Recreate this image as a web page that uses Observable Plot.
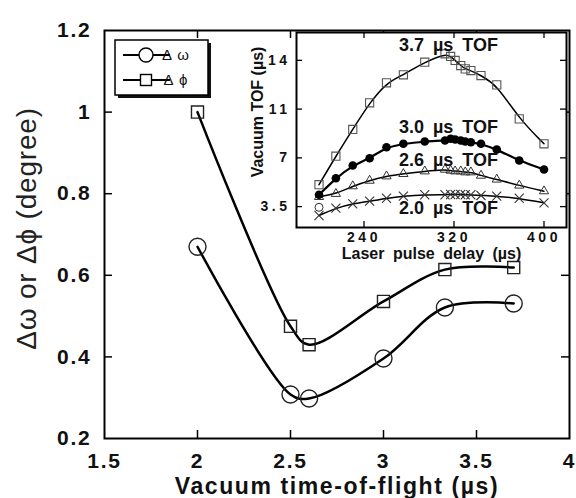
<!DOCTYPE html>
<html><head><meta charset="utf-8">
<script src="https://cdn.jsdelivr.net/npm/d3@7"></script>
<script src="https://cdn.jsdelivr.net/npm/@observablehq/plot@0.6"></script>
<style>
body{margin:0;background:#fff;}
#wrap{position:relative;width:576px;height:498px;overflow:hidden;}
#main{position:absolute;left:0;top:0;}
#inset{position:absolute;left:232px;top:31px;}
svg text{font-family:"Liberation Sans",Arial,Helvetica,sans-serif;}
</style></head><body>
<div id="wrap"><div id="main"></div><div id="inset"></div></div>
<script>
// ---- main chart data ----
const tof = [2.0, 2.5, 2.6, 3.0, 3.33, 3.7];
const dOmega = [0.67, 0.308, 0.298, 0.396, 0.521, 0.531];
const dPhi = [1.0, 0.475, 0.43, 0.536, 0.614, 0.619];
const xTicks = [1.5, 2, 2.5, 3, 3.5, 4];
const xTickLabels = ["1.5", "2", "2.5", "3", "3.5", "4"];
const yTicks = [0.2, 0.4, 0.6, 0.8, 1.0, 1.2];
const yTickLabels = ["0.2", "0.4", "0.6", "0.8", "1", "1.2"];
const legendLabels = ["Δ ω", "Δ ϕ"];
const xTitle = "Vacuum time-of-flight (µs)";
const yTitle = "Δω or Δϕ (degree)";

// ---- inset data ----
const delay = [200, 215, 230, 245, 260, 275, 294, 312, 317, 321, 326, 330, 335, 344, 358, 378, 400];
const tof37 = [5.07, 7.12, 9.04, 10.95, 12.39, 12.96, 13.87, 14.47, 14.28, 13.99, 13.63, 13.39, 13.27, 12.91, 12.24, 9.80, 8.01];
const tof30 = [4.35, 5.54, 6.45, 6.97, 7.76, 8.01, 8.17, 8.25, 8.37, 8.32, 8.25, 8.17, 8.12, 8.01, 7.60, 6.81, 6.16];
const tof26 = [4.2, 4.42, 4.97, 5.37, 5.68, 5.85, 6.04, 6.16, 6.09, 6.04, 6.04, 5.97, 5.97, 5.73, 5.45, 5.02, 4.61];
const tof20 = [2.86, 3.39, 3.70, 3.89, 4.10, 4.25, 4.35, 4.35, 4.37, 4.37, 4.37, 4.35, 4.35, 4.30, 4.25, 4.10, 3.77];
const openCircleDelay = [200];
const openCircleTof = [3.45];
const insetXTicks = [240, 320, 400];
const insetXTickLabels = ["240", "320", "400"];
const insetYTicks = [3.5, 7, 10.5, 14];
const insetYTickLabels = ["3.5", "7", "11", "14"];
const seriesLabels = ["3.7 µs TOF", "3.0 µs TOF", "2.6 µs TOF", "2.0 µs TOF"];
const seriesLabelY = [15.07, 9.18, 6.81, 3.36];
const seriesLabelX = 271;
const insetXTitle = "Laser pulse delay (µs)";
const insetYTitle = "Vacuum TOF (µs)";

const FONT = '"Liberation Sans", Arial, Helvetica, sans-serif';

// ---- main plot ----
const mW = 576, mH = 498, mL = 104, mR = 7, mT = 30, mB = 60;
const innerW = mW - mL - mR, innerH = mH - mT - mB;
const omega = tof.map((t, i) => ({t, v: dOmega[i]}));
const phi = tof.map((t, i) => ({t, v: dPhi[i]}));
const innerXT = xTicks.slice(1, -1), innerYT = yTicks.slice(1, -1);

const main = Plot.plot({
  width: mW, height: mH,
  marginLeft: mL, marginRight: mR, marginTop: mT, marginBottom: mB,
  style: {background: "white", fontFamily: FONT, overflow: "visible"},
  x: {domain: [1.5, 4], axis: null},
  y: {domain: [0.2, 1.2], axis: null},
  marks: [
    Plot.ruleX(innerXT, {x: d => d, insetTop: innerH - 8, stroke: "black", strokeWidth: 1.5}),
    Plot.ruleX(innerXT, {x: d => d, insetBottom: innerH - 8, stroke: "black", strokeWidth: 1.5}),
    Plot.ruleY(innerYT, {y: d => d, insetRight: innerW - 8, stroke: "black", strokeWidth: 1.5}),
    Plot.ruleY(innerYT, {y: d => d, insetLeft: innerW - 8, stroke: "black", strokeWidth: 1.5}),
    Plot.text(xTicks, {x: d => d, frameAnchor: "bottom", dy: 23, lineAnchor: "middle", textAnchor: "middle",
      text: (d, i) => xTickLabels[i], fontSize: 21, fontWeight: "bold", fill: "#111"}),
    Plot.text(yTicks, {y: d => d, frameAnchor: "left", dx: -13, textAnchor: "end", lineAnchor: "middle",
      text: (d, i) => yTickLabels[i], fontSize: 21, fontWeight: "bold", fill: "#111"}),
    Plot.text([xTitle], {frameAnchor: "bottom", dy: 48, lineAnchor: "middle", textAnchor: "middle",
      text: d => d, fontSize: 23, fontWeight: "bold", fill: "#111"}),
    Plot.text([yTitle], {frameAnchor: "left", dx: -77, dy: -6, rotate: -90, textAnchor: "middle", lineAnchor: "middle",
      text: d => d, fontSize: 28, fill: "#222"}),
    Plot.line(omega, {x: "t", y: "v", curve: "catmull-rom", stroke: "black", strokeWidth: 2.5}),
    Plot.line(phi, {x: "t", y: "v", curve: "catmull-rom", stroke: "black", strokeWidth: 2.5}),
    Plot.dot(omega, {x: "t", y: "v", symbol: "circle", r: 8.5, stroke: "#222", strokeWidth: 1.4, fill: "none"}),
    Plot.dot(phi, {x: "t", y: "v", symbol: "square", r: 6.8, stroke: "#222", strokeWidth: 1.4, fill: "none"}),
    Plot.frame({stroke: "black", strokeWidth: 2})
  ]
});
document.getElementById("main").appendChild(main);

// letter spacing tweaks (reference lettering is slightly wider)
d3.select(main).selectAll("text")
  .filter(function() { return xTickLabels.includes(this.textContent) || yTickLabels.includes(this.textContent); })
  .style("letter-spacing", "1.8px");
d3.select(main).selectAll("text")
  .filter(function() { return this.textContent === xTitle; })
  .style("letter-spacing", "1.6px");
d3.select(main).selectAll("text")
  .filter(function() { return this.textContent === yTitle; })
  .style("letter-spacing", "0.8px");

// legend (drawn into main svg)
{
  const svg = d3.select(main);
  const g = svg.append("g");
  g.append("rect").attr("x", 118).attr("y", 43).attr("width", 93).attr("height", 55).attr("fill", "#111");
  g.append("rect").attr("x", 115).attr("y", 40).attr("width", 93).attr("height", 55)
    .attr("fill", "white").attr("stroke", "black").attr("stroke-width", 1.5);
  const rows = [55, 80];
  legendLabels.forEach((lab, i) => {
    const y = rows[i];
    g.append("line").attr("x1", 123).attr("x2", 170).attr("y1", y).attr("y2", y)
      .attr("stroke", "black").attr("stroke-width", 2);
    if (i === 0) {
      g.append("circle").attr("cx", 146).attr("cy", y).attr("r", 7).attr("fill", "white")
        .attr("stroke", "black").attr("stroke-width", 1.4);
    } else {
      g.append("rect").attr("x", 140.5).attr("y", y - 5.5).attr("width", 11).attr("height", 11)
        .attr("fill", "white").attr("stroke", "black").attr("stroke-width", 1.4);
    }
    g.append("text").attr("x", 176).attr("y", y).attr("dy", "0.35em").attr("font-size", 15)
      .attr("font-family", FONT).attr("fill", "#111").style("letter-spacing", "1px").text(lab);
  });
}

// ---- inset plot ----
const iW = 335, iH = 229, iL = 64, iR = 1, iT = 1, iB = 33;
const iInnerW = iW - iL - iR, iInnerH = iH - iT - iB;
const mk = arr => delay.map((d, i) => ({d, v: arr[i]}));
const s37 = mk(tof37), s30 = mk(tof30), s26 = mk(tof26), s20 = mk(tof20);
const oc = openCircleDelay.map((d, i) => ({d, v: openCircleTof[i]}));
const insetLabels = seriesLabels.map((s, i) => ({s, y: seriesLabelY[i]}));

const inset = Plot.plot({
  width: iW, height: iH,
  marginLeft: iL, marginRight: iR, marginTop: iT, marginBottom: iB,
  style: {background: "transparent", fontFamily: FONT, overflow: "visible"},
  x: {domain: [180, 420], axis: null},
  y: {domain: [2, 16], axis: null},
  marks: [
    Plot.frame({fill: "white", stroke: null}),
    Plot.ruleX(insetXTicks, {x: d => d, insetTop: iInnerH - 6, stroke: "black", strokeWidth: 1.3}),
    Plot.ruleX(insetXTicks, {x: d => d, insetBottom: iInnerH - 6, stroke: "black", strokeWidth: 1.3}),
    Plot.ruleY(insetYTicks, {y: d => d, insetRight: iInnerW - 6, stroke: "black", strokeWidth: 1.3}),
    Plot.ruleY(insetYTicks, {y: d => d, insetLeft: iInnerW - 6, stroke: "black", strokeWidth: 1.3}),
    Plot.text(insetXTicks, {x: d => d, frameAnchor: "bottom", dy: 10, lineAnchor: "middle", textAnchor: "middle",
      text: (d, i) => insetXTickLabels[i], fontSize: 14, fontWeight: "bold", fill: "#111"}),
    Plot.text(insetYTicks, {y: d => d, frameAnchor: "left", dx: -6, textAnchor: "end", lineAnchor: "middle",
      text: (d, i) => insetYTickLabels[i], fontSize: 14, fontWeight: "bold", fill: "#111"}),
    Plot.text([insetXTitle], {frameAnchor: "bottom", dy: 26, lineAnchor: "middle", textAnchor: "middle",
      text: d => d, fontSize: 16, fontWeight: "bold", fill: "#111"}),
    Plot.text([insetYTitle], {frameAnchor: "left", dx: -39, dy: -18, rotate: -90, textAnchor: "middle", lineAnchor: "middle",
      text: d => d, fontSize: 16, fontWeight: "bold", fill: "#111"}),
    Plot.line(s37, {x: "d", y: "v", curve: "basis", stroke: "black", strokeWidth: 1.5}),
    Plot.line(s30, {x: "d", y: "v", curve: "basis", stroke: "black", strokeWidth: 2.2}),
    Plot.line(s26, {x: "d", y: "v", curve: "basis", stroke: "black", strokeWidth: 1.5}),
    Plot.line(s20, {x: "d", y: "v", curve: "basis", stroke: "black", strokeWidth: 1.5}),
    Plot.dot(s37, {x: "d", y: "v", symbol: "square", r: 4.6, stroke: "#555", strokeWidth: 1.1, fill: "none"}),
    Plot.dot(s26, {x: "d", y: "v", symbol: "triangle", r: 3.4, stroke: "#333", strokeWidth: 1, fill: "none"}),
    Plot.dot(s20, {x: "d", y: "v", symbol: "times", r: 4.2, stroke: "#333", strokeWidth: 1.1}),
    Plot.dot(oc, {x: "d", y: "v", symbol: "circle", r: 4, stroke: "#333", strokeWidth: 1, fill: "none"}),
    Plot.dot(s30, {x: "d", y: "v", symbol: "circle", r: 4.3, fill: "black", stroke: "none"}),
    Plot.text(insetLabels, {x: seriesLabelX, y: "y", text: "s", textAnchor: "start", lineAnchor: "middle",
      fontSize: 18, fontWeight: "bold", fill: "#111"}),
    Plot.frame({stroke: "black", strokeWidth: 2})
  ]
});
document.getElementById("inset").appendChild(inset);

d3.select(inset).selectAll("text")
  .filter(function() { return insetXTickLabels.includes(this.textContent) || insetYTickLabels.includes(this.textContent); })
  .style("letter-spacing", "3.5px");
d3.select(inset).selectAll("text")
  .filter(function() { return seriesLabels.includes(this.textContent) || this.textContent === insetXTitle; })
  .style("word-spacing", "4px");
</script>
</body></html>
